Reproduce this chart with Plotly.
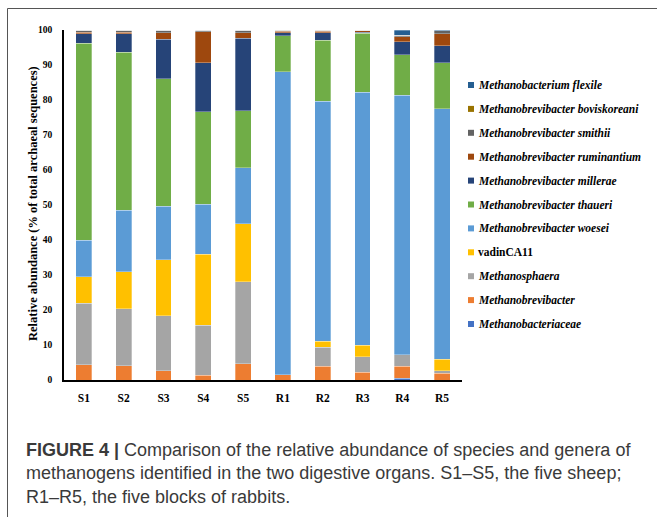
import plotly.graph_objects as go

# Samples: five sheep (S) and five rabbit blocks (R)
samples = ["S1", "S2", "S3", "S4", "S5", "R1", "R2", "R3", "R4", "R5"]

# Relative abundance (% of total archaeal sequences), stacked bottom to top
methanobacteriaceae = [0, 0, 0, 0, 0, 0, 0, 0, 0.5, 0]
methanobrevibacter = [4.3, 4.1, 2.6, 1.4, 4.7, 1.5, 3.9, 2.2, 3.4, 1.9]
methanosphaera = [17.7, 16.2, 15.7, 14.2, 23.4, 0, 5.5, 4.4, 3.3, 0.8]
vadinca11 = [7.5, 10.6, 16.0, 20.4, 16.6, 0, 1.7, 3.3, 0, 3.2]
mb_woesei = [10.5, 17.6, 15.4, 14.2, 15.9, 86.6, 68.5, 72.3, 74.1, 71.6]
mb_thaueri = [56.2, 45.1, 36.4, 26.4, 16.4, 10.3, 17.5, 16.9, 11.6, 13.2]
mb_millerae = [2.7, 5.3, 11.3, 14.1, 20.6, 0.8, 2.1, 0.2, 3.8, 4.8]
mb_ruminantium = [0.5, 0.4, 1.8, 8.8, 1.6, 0.4, 0.5, 0.5, 1.4, 3.5]
mb_smithii = [0.6, 0.7, 0.8, 0.5, 0.8, 0.4, 0.3, 0.2, 0.4, 0.8]
mb_boviskoreani = [0, 0, 0, 0, 0, 0, 0, 0, 0, 0]
mbac_flexile = [0, 0, 0, 0, 0, 0, 0, 0, 1.5, 0.2]

taxa = [
    ("Methanobacteriaceae", methanobacteriaceae, "#4472C4", True),
    ("Methanobrevibacter", methanobrevibacter, "#ED7D31", True),
    ("Methanosphaera", methanosphaera, "#A5A5A5", True),
    ("vadinCA11", vadinca11, "#FFC000", False),
    ("Methanobrevibacter woesei", mb_woesei, "#5B9BD5", True),
    ("Methanobrevibacter thaueri", mb_thaueri, "#70AD47", True),
    ("Methanobrevibacter millerae", mb_millerae, "#264478", True),
    ("Methanobrevibacter ruminantium", mb_ruminantium, "#9E480E", True),
    ("Methanobrevibacter smithii", mb_smithii, "#636363", True),
    ("Methanobrevibacter boviskoreani", mb_boviskoreani, "#997300", True),
    ("Methanobacterium flexile", mbac_flexile, "#255E91", True),
]

W, H = 657, 517
L, R, T, B = 64, 195, 30, 137
PW, PH = W - L - R, H - T - B


def px_x(px):
    return (px - L) / PW


def px_y(py):
    return (H - B - py) / PH


SERIF = "Liberation Serif"

fig = go.Figure()
for name, vals, color, italic in taxa:
    fig.add_trace(go.Bar(
        x=samples, y=vals, name=name,
        marker=dict(color=color, line=dict(color="rgba(255,255,255,0.6)", width=0.5)),
        showlegend=False,
    ))

# Legend drawn as colour keys plus labels, top entry = top of the stack
shapes = []
annotations = []
legend_top, legend_step = 85, 23.9
for i, (name, vals, color, italic) in enumerate(reversed(taxa)):
    yc = px_y(legend_top + i * legend_step)
    shapes.append(dict(
        type="rect", xref="paper", yref="paper",
        xsizemode="pixel", ysizemode="pixel",
        xanchor=px_x(471), yanchor=yc,
        x0=-3, x1=3, y0=-3, y1=3,
        fillcolor=color, line=dict(width=0),
    ))
    label = f"<b><i>{name}</i></b>" if italic else f"<b>{name}</b>"
    annotations.append(dict(
        x=px_x(476), y=yc, xref="paper", yref="paper",
        xanchor="left", yanchor="middle", showarrow=False,
        text=label, font=dict(family=SERIF, size=11.5, color="black"),
    ))

# Y-axis title
annotations.append(dict(
    x=px_x(33), y=px_y(204), xref="paper", yref="paper",
    xanchor="center", yanchor="middle", textangle=-90, showarrow=False,
    text="<b>Relative abundance (% of total archaeal sequences)</b>",
    font=dict(family=SERIF, size=12.5, color="black"),
))

# Outer frame of the figure panel
shapes.append(dict(
    type="rect", xref="paper", yref="paper",
    x0=px_x(7.5), x1=px_x(700), y0=px_y(8.5), y1=px_y(600),
    line=dict(color="#555555", width=1), fillcolor="rgba(0,0,0,0)", layer="below",
))

# Caption
annotations.append(dict(
    x=px_x(24), y=px_y(438), xref="paper", yref="paper",
    xanchor="left", yanchor="top", align="left", showarrow=False,
    text=("<b>FIGURE 4 |</b> Comparison of the relative abundance of species and genera of<br>"
          "methanogens identified in the two digestive organs. S1\u2013S5, the five sheep;<br>"
          "R1\u2013R5, the five blocks of rabbits."),
    font=dict(family="Liberation Sans", size=18, color="#3a3a3a"),
))

fig.update_layout(
    barmode="stack",
    bargap=0.6,
    width=W, height=H,
    margin=dict(l=L, r=R, t=T, b=B),
    paper_bgcolor="white", plot_bgcolor="white",
    shapes=shapes,
    annotations=annotations,
    xaxis=dict(
        showline=True, linecolor="black", linewidth=1.5,
        ticks="", ticklabelstandoff=6,
        tickfont=dict(family=SERIF, size=11.5, color="black", weight="bold"),
        showgrid=False, zeroline=False,
    ),
    yaxis=dict(
        range=[0, 100], tickvals=list(range(0, 101, 10)),
        showline=True, linecolor="black", linewidth=1.5,
        ticks="", ticklabelstandoff=8,
        tickfont=dict(family=SERIF, size=9.5, color="black", weight="bold"),
        showgrid=False, zeroline=False,
    ),
)

fig.write_html("out.html")
